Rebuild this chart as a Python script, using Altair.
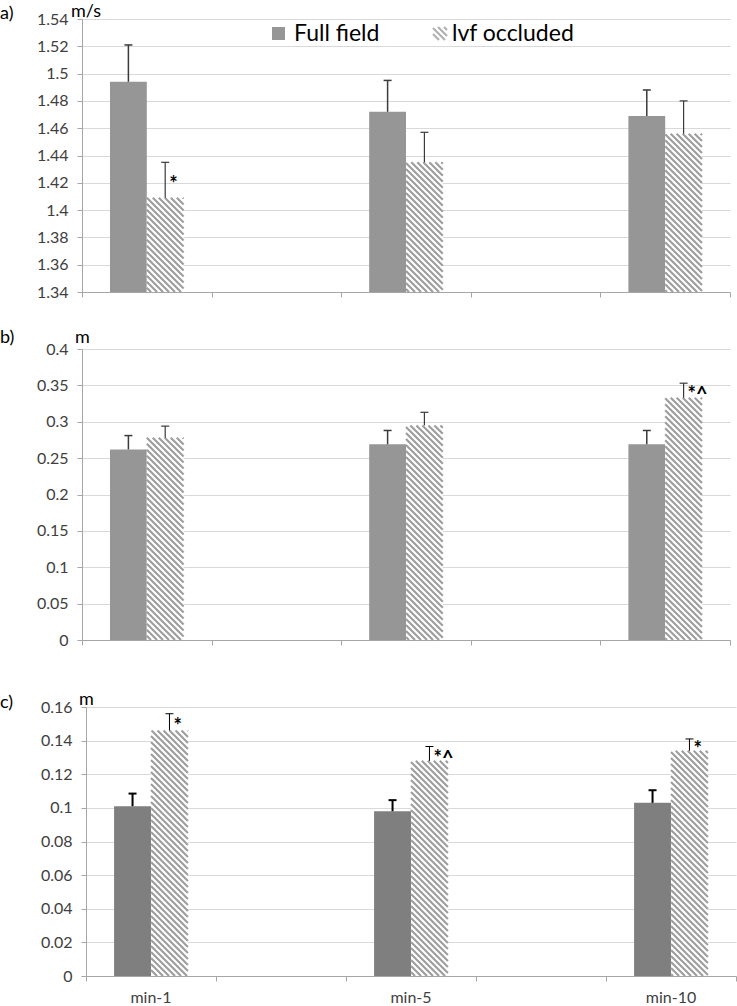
import math

import altair as alt
import pandas as pd

# ---- data -------------------------------------------------------------
conditions = ["min-1", "min-5", "min-10"]

# a) walking speed (m/s)
a_full = [1.494, 1.472, 1.469]
a_full_err = [0.027, 0.023, 0.019]
a_occ = [1.409, 1.435, 1.456]
a_occ_err = [0.026, 0.022, 0.024]
a_marks = ["*", "", ""]
a_ticks = [1.34, 1.36, 1.38, 1.40, 1.42, 1.44, 1.46, 1.48, 1.50, 1.52, 1.54]

# b) (m)
b_full = [0.262, 0.269, 0.269]
b_full_err = [0.019, 0.019, 0.019]
b_occ = [0.278, 0.295, 0.333]
b_occ_err = [0.016, 0.018, 0.020]
b_marks = ["", "", "*^"]
b_ticks = [0, 0.05, 0.10, 0.15, 0.20, 0.25, 0.30, 0.35, 0.40]

# c) (m)
c_full = [0.101, 0.098, 0.103]
c_full_err = [0.0075, 0.0066, 0.0075]
c_occ = [0.146, 0.128, 0.134]
c_occ_err = [0.010, 0.0085, 0.007]
c_marks = ["*", "*^", "*"]
c_ticks = [0, 0.02, 0.04, 0.06, 0.08, 0.10, 0.12, 0.14, 0.16]

series_names = ["Full field", "lvf occluded"]

# ---- style ------------------------------------------------------------
FONT = "Lato"
TEXT = "#404040"
AXIS = "#a6a6a6"
GRID = "#d9d9d9"
HATCH = "#9d9d9d"
N_SLOTS = 5          # category slots on the x axis; conditions sit in slots 0, 2, 4
HALF = 0.284         # bar width in slot units


def hatch_lines(L, R, T, B, period=6.0):
    """Diagonal (top-left to bottom-right) stripes clipped to a pixel box."""
    out = []
    c = math.floor((T - R) / period) * period
    while c <= B - L:
        x0 = max(L, T - c)
        x1 = min(R, B - c)
        if x1 - x0 > 0.3:
            out.append((x0, x0 + c, x1, x1 + c))
        c += period
    return out


def panel(tag, unit, full, full_err, occ, occ_err, marks, ticks, *, width, height,
          x_shift, top_gap, tag_y, unit_x, unit_y, bar_color, err_color,
          full_err_w, occ_err_w, x_labels=False, legend=False):
    ymin, ymax = ticks[0], ticks[-1]
    vw, vh = width + x_shift, height + top_gap

    def px_to_x(px):
        return (px - x_shift) / width * N_SLOTS

    def py_to_y(py):
        return ymax - (py - top_gap) / height * (ymax - ymin)

    def x_to_px(x):
        return x_shift + x / N_SLOTS * width

    def y_to_py(y):
        return top_gap + (ymax - y) / (ymax - ymin) * height

    xs = alt.Scale(domain=[0, N_SLOTS], range=[x_shift, vw], nice=False, zero=False)
    ys = alt.Scale(domain=[ymin, ymax], range=[vh, top_gap], nice=False, zero=False)
    x_axis = alt.Axis(values=list(range(N_SLOTS + 1)), labels=False, grid=False,
                      title=None, domainColor=AXIS, tickColor=AXIS, tickSize=5)
    y_axis = alt.Axis(values=ticks, format="~g", title=None, grid=True,
                      gridColor=GRID, domainColor=AXIS, tickColor=AXIS, tickSize=5,
                      labelFont=FONT, labelFontSize=16, labelColor=TEXT,
                      labelPadding=9, offset=-x_shift)

    def X(f):
        return alt.X(f"{f}:Q", scale=xs, axis=x_axis)

    def Y(f):
        return alt.Y(f"{f}:Q", scale=ys, axis=y_axis)

    centers = [2 * i + 0.5 for i in range(len(conditions))]

    full_df = pd.DataFrame({
        "x": [c - HALF for c in centers], "x2": centers,
        "y": full, "y2": [ymin] * len(full),
        "xc": [c - HALF / 2 for c in centers],
        "top": [v + e for v, e in zip(full, full_err)],
    })
    occ_df = pd.DataFrame({
        "x": centers, "x2": [c + HALF for c in centers],
        "y": occ, "y2": [ymin] * len(occ),
        "xc": [c + HALF / 2 for c in centers],
        "top": [v + e for v, e in zip(occ, occ_err)],
        "mid": [v + e / 2 for v, e in zip(occ, occ_err)],
        "mark": marks,
    })

    # hatch stripes for the occluded bars
    segs = []
    for _, r in occ_df.iterrows():
        segs += hatch_lines(x_to_px(r["x"]), x_to_px(r["x2"]),
                            y_to_py(r["y"]), y_to_py(r["y2"]))
    hatch_df = pd.DataFrame({
        "x": [px_to_x(s[0]) for s in segs], "y": [py_to_y(s[1]) for s in segs],
        "x2": [px_to_x(s[2]) for s in segs], "y2": [py_to_y(s[3]) for s in segs],
    })

    layers = [
        alt.Chart(full_df).mark_rect(fill=bar_color).encode(x=X("x"), x2="x2", y=Y("y"), y2="y2"),
        alt.Chart(occ_df).mark_rect(fill="white").encode(x=X("x"), x2="x2", y=Y("y"), y2="y2"),
        alt.Chart(hatch_df).mark_rule(stroke=HATCH, strokeWidth=2.1).encode(
            x=X("x"), x2="x2", y=Y("y"), y2="y2"),
    ]
    for df, w in ((full_df, full_err_w), (occ_df, occ_err_w)):
        layers.append(alt.Chart(df).mark_rule(stroke=err_color, strokeWidth=w).encode(
            x=X("xc"), y=Y("y"), y2="top"))
        layers.append(alt.Chart(df).mark_tick(orient="horizontal", size=8, thickness=w,
                                              color=err_color, opacity=1).encode(
            x=X("xc"), y=Y("top")))
    layers.append(alt.Chart(occ_df).mark_text(
        align="left", baseline="middle", dx=4, dy=5, font=FONT, fontSize=20,
        fontWeight="bold", color="black").encode(x=X("xc"), y=Y("mid"), text="mark:N"))

    # panel tag and unit
    layers.append(alt.Chart(pd.DataFrame({"t": [tag]})).mark_text(
        align="left", baseline="alphabetic", font=FONT, fontSize=18, color="black").encode(
        x=alt.value(-82), y=alt.value(tag_y), text="t:N"))
    layers.append(alt.Chart(pd.DataFrame({"t": [unit]})).mark_text(
        align="left", baseline="alphabetic", font=FONT, fontSize=18, color="black").encode(
        x=alt.value(unit_x), y=alt.value(unit_y), text="t:N"))

    if x_labels:
        lab_df = pd.DataFrame({"x": centers, "t": conditions})
        layers.append(alt.Chart(lab_df).mark_text(
            baseline="alphabetic", font=FONT, fontSize=16, color=TEXT).encode(
            x=X("x"), y=alt.value(vh + 27), text="t:N"))

    if legend:
        lx = 190.0  # left of the first key, px from the plot's left edge
        sq = pd.DataFrame({"t": [series_names[0]]})
        layers.append(alt.Chart(sq).mark_square(size=169, fill=bar_color, opacity=1).encode(
            x=alt.value(lx + 6.5), y=alt.value(14.5)))
        layers.append(alt.Chart(sq).mark_text(
            align="left", baseline="middle", font=FONT, fontSize=23, color="black").encode(
            x=alt.value(lx + 22), y=alt.value(15), text="t:N"))
        key = hatch_lines(lx + 161, lx + 175, 8, 21)
        key_df = pd.DataFrame({
            "x": [px_to_x(s[0]) for s in key], "y": [py_to_y(s[1]) for s in key],
            "x2": [px_to_x(s[2]) for s in key], "y2": [py_to_y(s[3]) for s in key],
        })
        layers.append(alt.Chart(key_df).mark_rule(stroke="#b0b0b0", strokeWidth=2.1).encode(
            x=X("x"), x2="x2", y=Y("y"), y2="y2"))
        layers.append(alt.Chart(pd.DataFrame({"t": [series_names[1]]})).mark_text(
            align="left", baseline="middle", font=FONT, fontSize=23, color="black").encode(
            x=alt.value(lx + 180), y=alt.value(15), text="t:N"))

    return alt.layer(*layers).properties(width=vw, height=vh)


pa = panel("a)", "m/s", a_full, a_full_err, a_occ, a_occ_err, a_marks, a_ticks,
           width=648, height=273, x_shift=0, top_gap=0, tag_y=0, unit_x=-11, unit_y=-2,
           bar_color="#969696", err_color="#3a3a3a", full_err_w=1.5, occ_err_w=1.2,
           legend=True)
pb = panel("b)", "m", b_full, b_full_err, b_occ, b_occ_err, b_marks, b_ticks,
           width=648, height=291, x_shift=0, top_gap=0, tag_y=-6, unit_x=-7, unit_y=-6,
           bar_color="#969696", err_color="#3a3a3a", full_err_w=1.5, occ_err_w=1.2)
pc = panel("c)", "m", c_full, c_full_err, c_occ, c_occ_err, c_marks, c_ticks,
           width=650, height=269, x_shift=4, top_gap=10, tag_y=11, unit_x=-3, unit_y=8,
           bar_color="#7f7f7f", err_color="black", full_err_w=2, occ_err_w=1,
           x_labels=True)

chart = (
    alt.vconcat(pa, pb, pc, spacing=57, bounds="flush")
    .properties(padding={"left": 0, "top": 3, "right": 0, "bottom": 0})
    .configure_view(stroke=None)
)

chart.save("out.html", embed_options={"renderer": "svg", "actions": False})
